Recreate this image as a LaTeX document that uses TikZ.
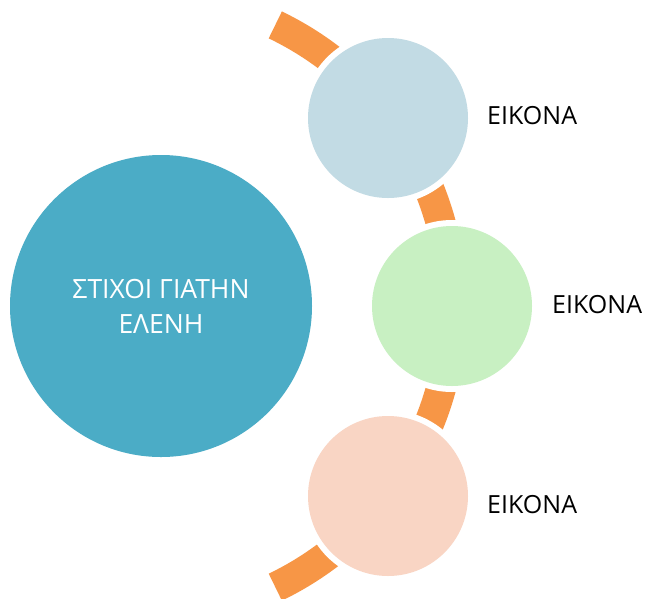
\documentclass[tikz,border=0pt]{standalone}
\usepackage{fontspec}
\setmainfont{Open Sans}
\definecolor{bigteal}{HTML}{4BACC6}
\definecolor{topblue}{HTML}{C2DBE4}
\definecolor{midgreen}{HTML}{C8F0C2}
\definecolor{botpeach}{HTML}{F9D5C4}
\definecolor{arcorange}{HTML}{F79646}
\begin{document}
\begin{tikzpicture}[x=1pt,y=-1pt]
\tikzset{
  bubble/.style={circle, minimum size=160pt, inner sep=0pt,
    preaction={draw=white, line width=12pt}},
  lbl/.style={anchor=west, inner sep=0pt, text=black,
    font=\fontsize{25}{30}\selectfont},
  band/.style={line width=30pt, draw=arcorange}
}
\useasboundingbox (0,0) rectangle (645,598);
\fill[white] (0,0) rectangle (645,598);
% orange arc
\coordinate (arcstart) at (275.3,24.9);
\draw[band] (arcstart) arc[start angle=-64.3, end angle=64.3, radius=312];
% big circle
\node[circle, minimum size=302pt, inner sep=0pt, fill=bigteal, text=white,
  align=center, font=\fontsize{26.5}{35}\selectfont] (main) at (161,306)
  {ΣΤΙΧΟΙ ΓΙΑΤΗΝ\\ΕΛΕΝΗ};
% small circles
\node[bubble, fill=topblue] (c1) at (388,118) {};
\node[bubble, fill=midgreen] (c2) at (452,306) {};
\node[bubble, fill=botpeach] (c3) at (388,496) {};
% labels
\node[lbl] (l1) at (487,116) {ΕΙΚΟΝΑ};
\node[lbl] (l2) at (552,305) {ΕΙΚΟΝΑ};
\node[lbl] (l3) at (487,505) {ΕΙΚΟΝΑ};
\end{tikzpicture}
\end{document}
